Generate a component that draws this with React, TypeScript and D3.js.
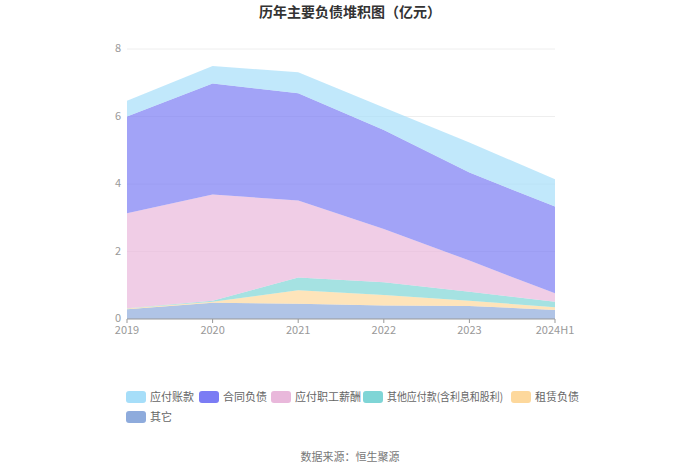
import React from "react";
import * as d3 from "d3";

const categories = ["2019", "2020", "2021", "2022", "2023", "2024H1"];
const seriesNames = ["应付账款", "合同负债", "应付职工薪酬", "其他应付款(含利息和股利)", "租赁负债", "其它"];
const accountsPayable = [0.47, 0.52, 0.62, 0.67, 0.89, 0.81];
const contractLiab = [2.87, 3.29, 3.18, 2.93, 2.61, 2.57];
const payroll = [2.81, 3.15, 2.28, 1.58, 0.92, 0.25];
const otherPayable = [0.01, 0.03, 0.38, 0.38, 0.27, 0.16];
const leaseLiab = [0.02, 0.03, 0.40, 0.31, 0.155, 0.08];
const others = [0.29, 0.48, 0.45, 0.40, 0.385, 0.27];
const yTicks = [0, 2, 4, 6, 8];
const legendColors = ["#a6def9", "#7b7cf4", "#e9b8db", "#7fd5d6", "#fdd89c", "#8eabdc"];

const W = 700, H = 473;
const left = 127, right = 555, top = 49, bottom = 319;

export default function App() {
  const stackOrder = [5, 4, 3, 2, 1, 0];
  const seriesData = [accountsPayable, contractLiab, payroll, otherPayable, leaseLiab, others];
  const rows = categories.map((c, i) => {
    const r: any = { cat: c };
    seriesData.forEach((s, k) => (r[k] = s[i]));
    return r;
  });
  const stack = d3.stack<any>().keys(stackOrder.map(String));
  const stacked = stack(rows);
  const x = d3.scalePoint().domain(categories).range([left, right]);
  const y = d3.scaleLinear().domain([0, 8]).range([bottom, top]);
  const area = d3
    .area<any>()
    .x((d) => x(d.data.cat) as number)
    .y0((d) => y(d[0]))
    .y1((d) => y(d[1]));

  const font = "'Microsoft YaHei', 'Noto Sans CJK SC', sans-serif";
  const legendRow1 = [
    { i: 0, x: 126, tl: 0 },
    { i: 1, x: 199, tl: 0 },
    { i: 2, x: 271, tl: 0 },
    { i: 3, x: 363, tl: 116 },
    { i: 4, x: 511, tl: 0 },
  ];
  const legendItems = [...legendRow1.map((l) => ({ ...l, y: 397 })), { i: 5, x: 126, y: 417, tl: 0 }];

  return (
    <svg width={W} height={H} style={{ display: "block", position: "absolute", left: 0, top: 0 }} fontFamily={font}>
      <rect width={W} height={H} fill="#fff" />
      <text x={350} y={17} textAnchor="middle" fontSize={14} fontWeight="bold" fill="#333">
        历年主要负债堆积图（亿元）
      </text>
      {yTicks.map((t) => (
        <g key={t}>
          {t > 0 && <line x1={left} x2={right} y1={y(t)} y2={y(t)} stroke="#eeeeee" />}
          <text x={left - 6} y={y(t) + 3} textAnchor="end" fontSize={11} fill="#999">
            {t}
          </text>
        </g>
      ))}
      {stacked.map((s) => {
        const k = Number(s.key);
        return <path key={k} d={area(s) || ""} fill={legendColors[k]} fillOpacity={0.7} />;
      })}
      <line x1={left} x2={right} y1={bottom} y2={bottom} stroke="#999" />
      {categories.map((c) => (
        <g key={c}>
          <line x1={x(c)} x2={x(c)} y1={bottom} y2={bottom + 4} stroke="#999" />
          <text x={x(c)} y={bottom + 15} textAnchor="middle" fontSize={11} fill="#999">
            {c}
          </text>
        </g>
      ))}
      {legendItems.map((l) => (
        <g key={l.i}>
          <rect x={l.x} y={l.y - 6} width={20} height={12} rx={3} fill={legendColors[l.i]} />
          <text
            x={l.x + 24}
            y={l.y + 4}
            fontSize={11}
            fill="#666"
            {...(l.tl ? { textLength: l.tl, lengthAdjust: "spacingAndGlyphs" } : {})}
          >
            {seriesNames[l.i]}
          </text>
        </g>
      ))}
      <text x={350} y={461} textAnchor="middle" fontSize={11} fill="#777">
        数据来源：恒生聚源
      </text>
    </svg>
  );
}
